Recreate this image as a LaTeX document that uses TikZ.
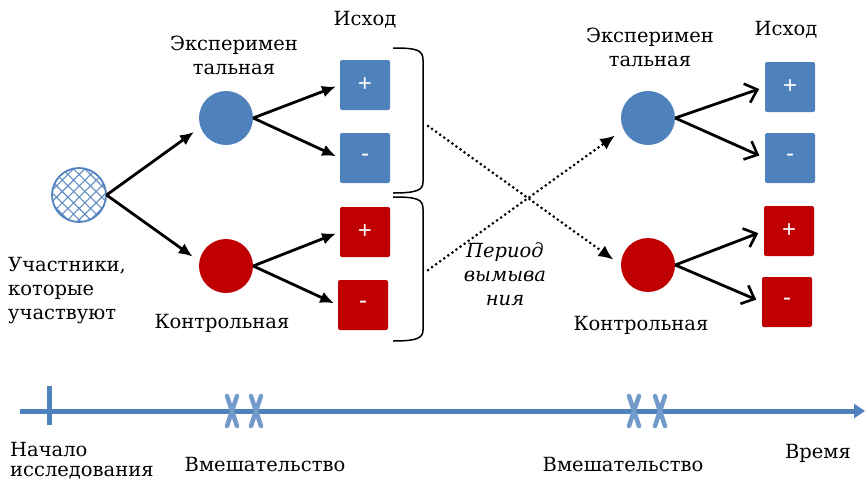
\documentclass[tikz,border=0pt]{standalone}
\usepackage{fontspec}
\setmainfont{DejaVu Serif}
\setsansfont{Liberation Sans}
\usetikzlibrary{arrows.meta,patterns.meta}
\definecolor{myblue}{HTML}{4F81BD}
\definecolor{myred}{HTML}{C00000}
\tikzset{
  lbl/.style={font=\fontsize{19.5}{24}\selectfont, align=center, inner sep=0},
  group/.style={circle, minimum size=54, inner sep=0},
  outcome/.style={minimum width=50, minimum height=50, inner sep=0, rounded corners=2pt,
    text=white, font=\sffamily\fontsize{24}{24}\selectfont},
  solidarrow/.style={-{Latex[length=14pt,width=12pt]}, line width=2.8pt, shorten >=4pt},
  openarrow/.style={-{Straight Barb[length=11pt,width=20pt,line width=2.6pt]}, line width=2.8pt, shorten >=6pt},
  washout/.style={dash pattern=on 0pt off 5pt, line cap=round, line width=3pt,
    -{Latex[length=15pt,width=13pt,line cap=butt]}},
  timeline/.style={line width=5pt, draw=myblue},
  xcut/.pic={\draw[line width=4.5pt, myblue!80, line cap=round] (-5,-15) -- (5,15) (5,-15) -- (-5,15);}
}
\begin{document}
\begin{tikzpicture}[x=1pt,y=-1pt]
  \useasboundingbox (0,0) rectangle (867,480);
  % participants
  \node[group, draw=myblue, line width=1.8pt, pattern={Hatch[angle=45,distance=8pt,line width=1.1pt]},
    pattern color=myblue!90] (part) at (79,195) {};
  \node[lbl, align=left, anchor=west] (parttext) at (8,291) {Участники,\\которые\\участвуют};

  % first period
  \node[group, fill=myblue] (expL) at (226,118) {};
  \node[group, fill=myred] (ctrlL) at (226,266) {};
  \node[lbl] (exptextL) at (234,55) {Эксперимен\\тальная};
  \node[lbl] (ctrltextL) at (222,323) {Контрольная};
  \node[lbl] (outtextL) at (365,20) {Исход};
  \node[outcome, fill=myblue] (plusEL) at (365,85) {+};
  \node[outcome, fill=myblue] (minusEL) at (365,158) {-};
  \node[outcome, fill=myred] (plusCL) at (365,232) {+};
  \node[outcome, fill=myred] (minusCL) at (363,305) {-};

  \draw[solidarrow, shorten >=8pt] (part.east) -- (expL.200);
  \draw[solidarrow, shorten >=8pt] (part.east) -- (ctrlL.170);
  \draw[solidarrow] (expL.east) -- (plusEL.west);
  \draw[solidarrow] (expL.east) -- (minusEL.west);
  \draw[solidarrow] (ctrlL.east) -- (plusCL.west);
  \draw[solidarrow] (ctrlL.east) -- (minusCL.west);

  % braces
  \draw[line width=1.5pt] (393,48) .. controls (417,48) and (423,50) .. (423,60) -- (423,182)
    .. controls (423,190) and (417,193) .. (393,193);
  \draw[line width=1.5pt] (393,197) .. controls (417,197) and (423,199) .. (423,209) -- (423,330)
    .. controls (423,338) and (417,341) .. (393,341);
  \coordinate (braceE) at (428,126);
  \coordinate (braceC) at (428,270);

  % second period
  \node[group, fill=myblue] (expR) at (648,118) {};
  \node[group, fill=myred] (ctrlR) at (648,265) {};
  \node[lbl] (exptextR) at (650,47) {Эксперимен\\тальная};
  \node[lbl] (ctrltextR) at (641,325) {Контрольная};
  \node[lbl] (outtextR) at (786,30) {Исход};
  \node[outcome, fill=myblue] (plusER) at (790,87) {+};
  \node[outcome, fill=myblue] (minusER) at (790,158) {-};
  \node[outcome, fill=myred] (plusCR) at (789,231) {+};
  \node[outcome, fill=myred] (minusCR) at (787,302) {-};

  \draw[openarrow] (expR.east) -- (plusER.west);
  \draw[openarrow] (expR.east) -- (minusER.west);
  \draw[openarrow] (ctrlR.east) -- (plusCR.west);
  \draw[openarrow] (ctrlR.east) -- (minusCR.west);

  % washout
  \draw[washout, shorten >=9pt] (braceE) -- (ctrlR.west);
  \draw[washout, shorten >=10pt] (braceC) -- (expR.205);
  \node[lbl, font=\itshape\fontsize{19.5}{24}\selectfont] (washtext) at (505,274) {Период\\вымыва\\ния};

  % time axis
  \coordinate (tstart) at (20,411);
  \coordinate (tend) at (865,411);
  \draw[timeline, -{Triangle[length=11pt,width=14pt]}] (tstart) -- (tend);
  \draw[timeline] (49,386) -- (49,425);
  \foreach \xc in {232,256,634,660}
    \pic at (\xc,411) {xcut};
  \node[lbl, align=left, anchor=west] (starttext) at (10,461) {Начало\\[-4pt]исследования};
  \node[lbl] (intertextL) at (265,465) {Вмешательство};
  \node[lbl] (intertextR) at (623,465) {Вмешательство};
  \node[lbl] (timetext) at (818,453) {Время};
\end{tikzpicture}
\end{document}
